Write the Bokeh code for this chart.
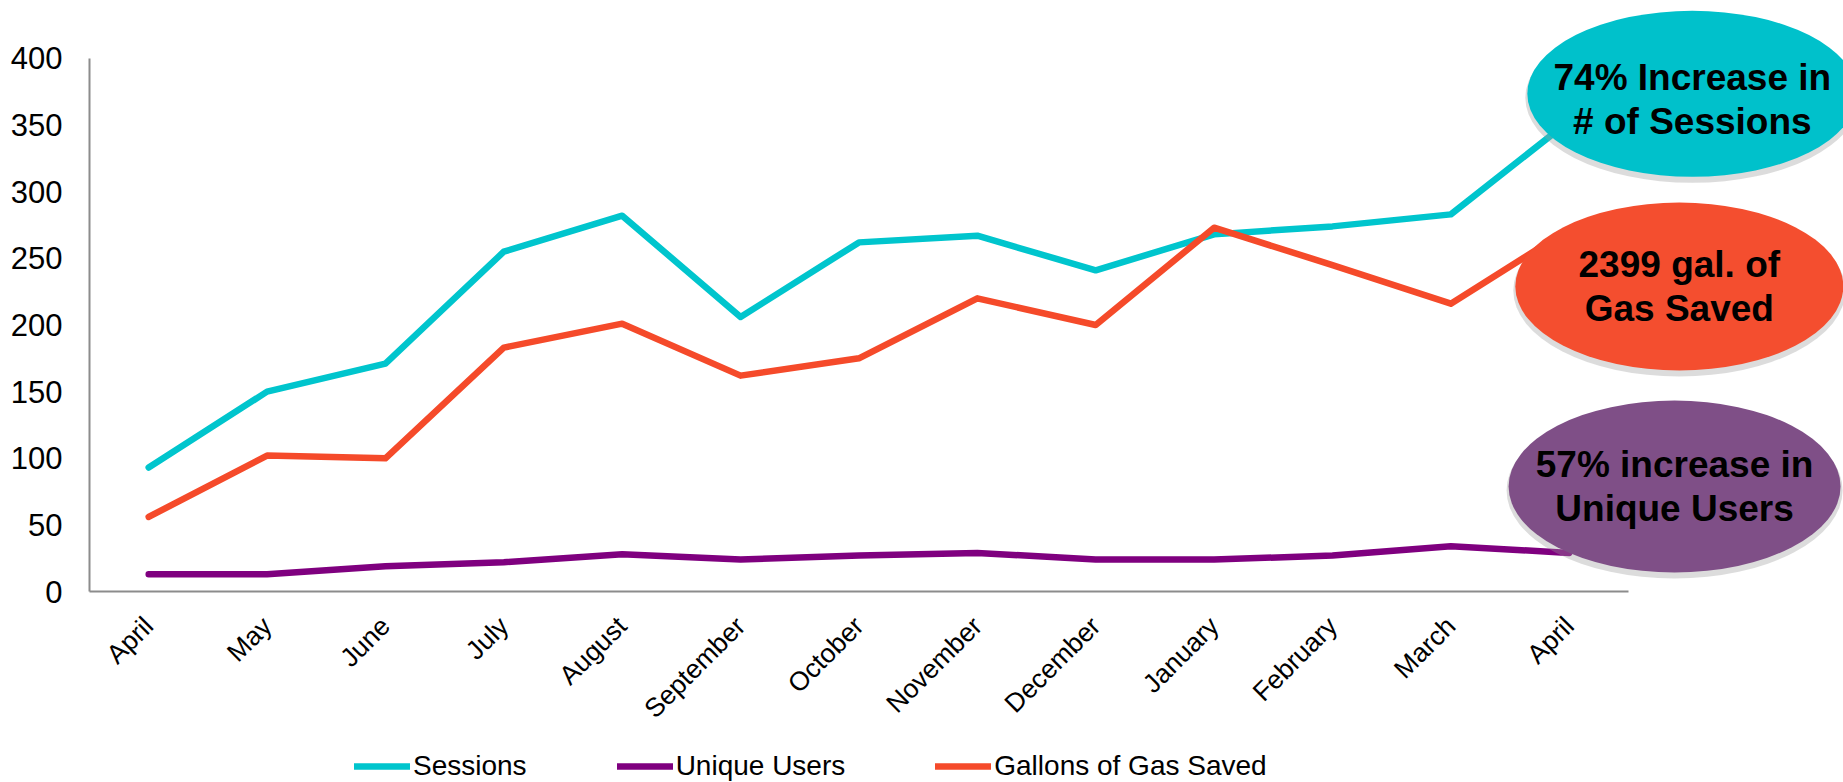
import math
from bokeh.plotting import figure
from bokeh.models import (Range1d, FixedTicker, Legend, LegendItem)
from bokeh.core.properties import value
from bokeh.embed import file_html
from bokeh.resources import INLINE

months = ["April", "May", "June", "July", "August", "September", "October",
          "November", "December", "January", "February", "March", "April"]
sessions = [93, 150, 171, 255, 282, 206, 262, 267, 241, 268, 274, 283, 353]
unique_users = [13, 13, 19, 22, 28, 24, 27, 29, 24, 24, 27, 34, 29]
gas_saved = [56, 102, 100, 183, 201, 162, 175, 220, 200, 273, 245, 216, 272]
y_ticks = [0, 50, 100, 150, 200, 250, 300, 350, 400]

callout_lines = [["74% Increase in", "# of Sessions"],
                 ["2399 gal. of", "Gas Saved"],
                 ["57% increase in", "Unique Users"]]
callout_x = [13.04, 12.93, 12.89]
callout_y = [373.5, 228.9, 78.8]
callout_text_y = [369.5, 228.9, 78.8]
callout_w = [330, 328, 332]
callout_h = [166, 168, 172]
callout_fill = ["#00C1CB", "#F44E2F", "#7F4F87"]

FONT = "Liberation Sans"
xs = list(range(len(months)))

# frame covers the whole canvas; axes are pinned at x=-0.5 and y=0
p = figure(width=1843, height=782, output_backend="svg", toolbar_location=None,
           x_range=Range1d(-1.2518, 14.317), y_range=Range1d(-143.3, 443.5),
           min_border=0, min_border_left=0, min_border_right=0,
           min_border_top=0, min_border_bottom=0)
p.outline_line_color = None
p.grid.visible = False
p.background_fill_color = "white"
p.border_fill_color = "white"

xa = p.xaxis[0]
xa.ticker = FixedTicker(ticks=xs)
xa.major_label_overrides = {i: m for i, m in enumerate(months)}
xa.major_label_orientation = math.pi / 4
xa.bounds = (-0.5, len(months) - 0.5)
xa.fixed_location = 0
ya = p.yaxis[0]
ya.ticker = FixedTicker(ticks=y_ticks)
ya.bounds = (0, 400)
ya.fixed_location = -0.5
for ax in (xa, ya):
    ax.axis_line_color = "#8C8C8C"
    ax.axis_line_width = 2
    ax.major_tick_line_color = None
    ax.minor_tick_line_color = None
    ax.major_tick_out = 0
    ax.major_tick_in = 0
    ax.major_label_text_font = FONT
    ax.major_label_text_color = "black"
xa.major_label_text_font_size = "26.5px"
xa.major_label_standoff = 30
ya.major_label_text_font_size = "31px"
ya.major_label_standoff = 27

lw = 6.5
r_s = p.line(xs, sessions, line_color="#00C5CD", line_width=lw,
             line_join="round", line_cap="round")
r_u = p.line(xs, unique_users, line_color="#7F007F", line_width=lw,
             line_join="round", line_cap="round")
r_g = p.line(xs, gas_saved, line_color="#F54A2A", line_width=lw,
             line_join="round", line_cap="round")

# callout ellipses with soft shadow
p.ellipse(x=callout_x, y=[v - 3.0 for v in callout_y], width=[w + 4 for w in callout_w],
          height=[h + 4 for h in callout_h], width_units="screen", height_units="screen",
          fill_color="#9A9A9A", fill_alpha=0.35, line_color=None)
p.ellipse(x=callout_x, y=callout_y, width=callout_w, height=callout_h,
          width_units="screen", height_units="screen",
          fill_color=callout_fill, line_color=None)
for i, lines in enumerate(callout_lines):
    for j, t in enumerate(lines):
        p.text(x=[callout_x[i]], y=[callout_text_y[i]], text=[t],
               y_offset=(-22 if j == 0 else 22),
               text_font=value(FONT), text_font_style="bold",
               text_font_size="37px", text_color="black",
               text_align="center", text_baseline="middle")

legend = Legend(items=[LegendItem(label="Sessions", renderers=[r_s]),
                       LegendItem(label="Unique Users", renderers=[r_u]),
                       LegendItem(label="Gallons of Gas Saved", renderers=[r_g])],
                orientation="horizontal", location=(354, 0))
legend.label_text_font = FONT
legend.label_text_font_size = "28px"
legend.label_text_color = "black"
legend.glyph_width = 56
legend.glyph_height = 20
legend.label_standoff = 3
legend.spacing = 90
legend.padding = 0
legend.margin = 0
legend.border_line_color = None
legend.background_fill_alpha = 0
p.add_layout(legend, "center")

open("out.html", "w").write(file_html(p, INLINE))
